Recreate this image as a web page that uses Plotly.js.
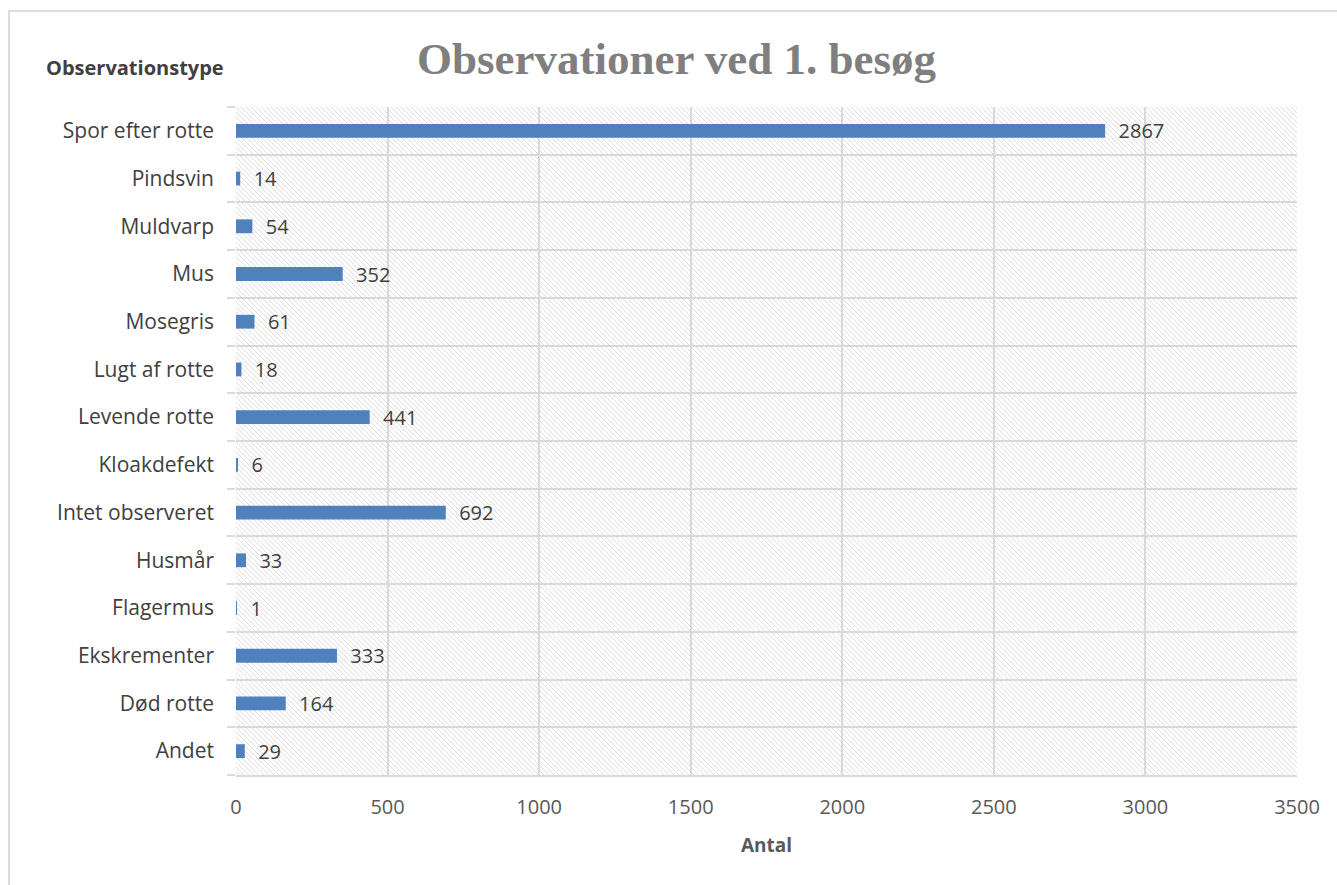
<!DOCTYPE html>
<html>
<head>
<meta charset="utf-8">
<script src="https://cdn.plot.ly/plotly-3.0.1.min.js"></script>
<style>
  html, body { margin: 0; padding: 0; background: #fff; overflow: hidden; }
  #frame { position: absolute; left: 8px; top: 10px; width: 1400px; height: 900px;
           border-left: 2px solid #dcdcdc; border-top: 2px solid #dcdcdc; pointer-events: none; z-index: 5; }
  #chart { width: 1337px; height: 885px; }
</style>
</head>
<body>
<div id="frame"></div>
<div id="chart"></div>
<script>
// Data (bottom to top, as in the source sheet)
const categories = ["Andet", "Død rotte", "Ekskrementer", "Flagermus", "Husmår",
  "Intet observeret", "Kloakdefekt", "Levende rotte", "Lugt af rotte", "Mosegris",
  "Mus", "Muldvarp", "Pindsvin", "Spor efter rotte"];
const counts = [29, 164, 333, 1, 33, 692, 6, 441, 18, 61, 352, 54, 14, 2867];
const xTicks = [0, 500, 1000, 1500, 2000, 2500, 3000, 3500];

const chartTitle = "Observationer ved 1. besøg";
const yTitle = "Observationstype";
const xTitle = "Antal";

// hatch background for plot area
const pw = 1061, ph = 668;
const svg = `<svg xmlns="http://www.w3.org/2000/svg" width="${pw}" height="${ph}">
<defs><pattern id="h" width="5" height="5" patternUnits="userSpaceOnUse">
<path d="M-1,-1 L6,6 M-1,4 L1,6 M4,-1 L6,1" stroke="#dedede" stroke-width="1"/></pattern></defs>
<rect width="${pw}" height="${ph}" fill="#fff"/>
<rect width="${pw}" height="${ph}" fill="url(#h)"/></svg>`;
const hatch = "data:image/svg+xml;base64," + btoa(svg);

const sans = "'Open Sans', Lato, sans-serif";

const trace = {
  type: "bar",
  orientation: "h",
  y: categories,
  x: counts,
  marker: { color: "#4f81bd" },
  text: counts.map(v => "\u00a0\u00a0" + v),
  textposition: "outside",
  constraintext: "none",
  textfont: { family: sans, size: 20, color: "#404040" },
  cliponaxis: false,
  hoverinfo: "x+y"
};

const layout = {
  width: 1337, height: 885,
  margin: { l: 236, r: 40, t: 107, b: 110 },
  paper_bgcolor: "#ffffff",
  plot_bgcolor: "rgba(0,0,0,0)",
  bargap: 0.71,
  showlegend: false,
  title: {
    text: chartTitle,
    font: { family: "'Liberation Serif', 'DejaVu Serif', serif", size: 45, color: "#7f7f7f", weight: "bold" },
    x: 0.506, xref: "container", xanchor: "center",
    y: 1 - 58 / 885, yref: "container", yanchor: "middle"
  },
  xaxis: {
    range: [0, 3500],
    tickvals: xTicks,
    ticktext: xTicks.map(String),
    showgrid: true, gridcolor: "#d9d9d9", gridwidth: 2,
    zeroline: false,
    showline: true, linecolor: "#d9d9d9", linewidth: 2,
    ticks: "", ticklabelstandoff: 13,
    tickfont: { family: sans, size: 20, color: "#595959" },
    title: { text: xTitle, font: { family: sans, size: 19, color: "#595959", weight: "bold" }, standoff: 20 },
    fixedrange: true
  },
  yaxis: {
    type: "category",
    categoryorder: "array", categoryarray: categories,
    tickson: "boundaries",
    showgrid: true, gridcolor: "#d9d9d9", gridwidth: 2,
    showline: false,
    ticks: "outside", ticklen: 8, tickcolor: "#d9d9d9", tickwidth: 2,
    ticklabelstandoff: 21,
    tickfont: { family: sans, size: 21, color: "#404040" },
    fixedrange: true
  },
  images: [{
    source: hatch, xref: "paper", yref: "paper", x: 0, y: 1, sizex: 1, sizey: 1,
    sizing: "stretch", xanchor: "left", yanchor: "top", layer: "below"
  }],
  annotations: [{
    text: yTitle, xref: "paper", yref: "paper",
    x: 0, y: 1, xshift: -101, yshift: 40,
    xanchor: "center", yanchor: "middle", showarrow: false,
    font: { family: sans, size: 20, color: "#404040", weight: "bold" }
  }]
};

Plotly.newPlot("chart", [trace], layout, { displayModeBar: false });
</script>
</body>
</html>
